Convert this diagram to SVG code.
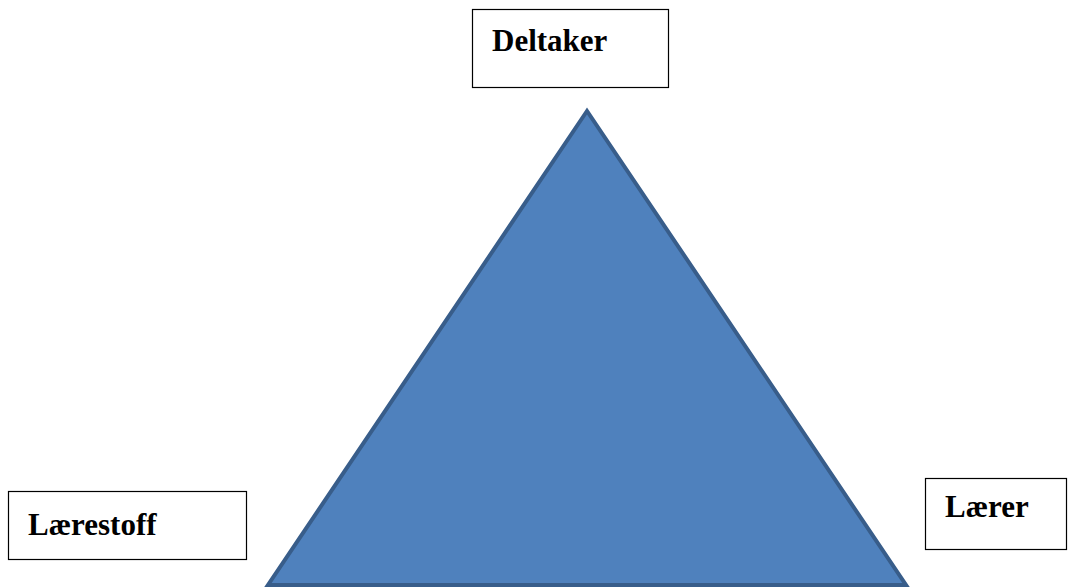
<svg xmlns="http://www.w3.org/2000/svg" width="1068" height="588" viewBox="0 0 1068 588">
  <style>
    .box { fill: #ffffff; stroke: #000000; stroke-width: 1.2; }
    .label { font-family: "Liberation Serif", "Times New Roman", serif; font-weight: bold; font-size: 31px; fill: #000000; }
    .tri { fill: #4f81bd; stroke: #385d8a; stroke-width: 4; stroke-linejoin: miter; }
  </style>
  <rect width="1068" height="588" fill="#ffffff"/>
  <g id="connectors"></g>
  <g id="triangle">
    <polygon class="tri" points="587,111 268,585 906,585"/>
  </g>
  <g id="node-deltaker">
    <rect class="box" x="472.5" y="9.5" width="196" height="78"/>
    <text class="label" x="492" y="51">Deltaker</text>
  </g>
  <g id="node-laerestoff">
    <rect class="box" x="8.5" y="491.5" width="238" height="68"/>
    <text class="label" x="28" y="535">Lærestoff</text>
  </g>
  <g id="node-laerer">
    <rect class="box" x="925.5" y="478.5" width="141" height="71"/>
    <text class="label" x="945" y="517">Lærer</text>
  </g>
</svg>
